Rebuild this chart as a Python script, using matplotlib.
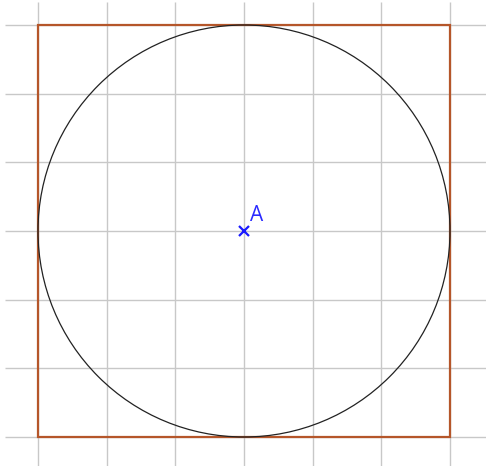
import numpy as np
import matplotlib
matplotlib.use("Agg")
import matplotlib.pyplot as plt
from matplotlib.patches import Circle, Rectangle

# data
grid_ticks = [-3, -2, -1, 0, 1, 2, 3]
center = (0.0, 0.0)
radius = 3.0
square_corner = (-3.0, -3.0)
square_side = 6.0
point_label = "A"

fig = plt.figure(figsize=(4.86, 4.66), dpi=100)
ax = fig.add_axes([0, 0, 1, 1])
unit = 412 / 6.0
ax.set_xlim(-244 / unit, (486 - 244) / unit)
ax.set_ylim(-(466 - 231) / unit, 231 / unit)
ax.set_aspect('auto')
ax.axis('off')

gx0, gx1 = (5 - 244) / unit, (486 - 244) / unit
gy0, gy1 = -(466 - 231) / unit, (231 - 2) / unit
for t in grid_ticks:
    ax.plot([gx0, gx1], [t, t], color='#c8c8c8', lw=1.0, zorder=1, solid_capstyle='butt')
    ax.plot([t, t], [gy0, gy1], color='#c8c8c8', lw=1.0, zorder=1, solid_capstyle='butt')

ax.add_patch(Rectangle(square_corner, square_side, square_side, fill=False,
                       edgecolor='#b5562a', lw=1.6, zorder=2, joinstyle='miter'))
ax.add_patch(Circle(center, radius, fill=False, edgecolor='#222222', lw=0.9, zorder=3))

ax.plot([center[0]], [center[1]], marker='x', color='#1a1aff', markersize=7,
        markeredgewidth=1.6, zorder=4)
ax.annotate(point_label, xy=center, xytext=(6, 5), textcoords='offset pixels',
            color='#2a2aff', fontsize=15, fontfamily='Open Sans', ha='left', va='bottom',
            zorder=5)

fig.savefig('out.png', dpi=100)
